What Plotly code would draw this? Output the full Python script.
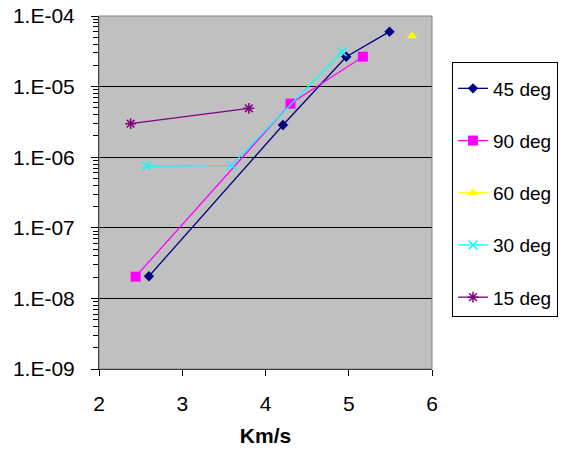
import plotly.graph_objects as go

# ---- data ----
names = ["45 deg", "90 deg", "60 deg", "30 deg", "15 deg"]
x45 = [2.60, 4.21, 4.97, 5.49]
y45 = [2.06e-8, 2.86e-6, 2.65e-5, 6.0e-5]
x90 = [2.44, 4.30, 5.17]
y90 = [2.03e-8, 5.73e-6, 2.65e-5]
x60 = [5.76]
y60 = [5.2e-5]
x30 = [2.57, 3.59, 4.92]
y30 = [7.5e-7, 7.67e-7, 3.12e-5]
x15 = [2.38, 3.80]
y15 = [2.98e-6, 4.93e-6]
ytick_vals = [1e-9, 1e-8, 1e-7, 1e-6, 1e-5, 1e-4]
ytick_text = ["1.E-09", "1.E-08", "1.E-07", "1.E-06", "1.E-05", "1.E-04"]
xtick_vals = [2, 3, 4, 5, 6]

series = [
    (names[0], x45, y45, "#000080", "diamond", 8, 0),
    (names[1], x90, y90, "#FF00FF", "square", 10, 0),
    (names[2], x60, y60, "#FFFF00", "triangle-up", 9, 0),
    (names[3], x30, y30, "#00FFFF", "x-thin-open", 9, 1.5),
    (names[4], x15, y15, "#800080", "asterisk-open", 9, 1.5),
]

fig = go.Figure()
for i, (n, xs, ys, c, sym, sz, lw) in enumerate(series):
    fig.add_trace(go.Scatter(
        x=xs, y=ys, name=n, mode="lines+markers", legendgroup=f"g{i}",
        line=dict(color=c, width=1.3),
        marker=dict(symbol=sym, size=sz, color=c, line=dict(color=c, width=lw)),
    ))

minor_vals = [m * 10.0 ** e for e in range(-9, -4) for m in range(2, 10)]

W, H = 565, 450
L, T, B = 99, 16, 81
plot_w = 333
paper_w = W - L
plot_h = H - T - B

fig.update_layout(
    width=W, height=H,
    margin=dict(l=L, r=0, t=T, b=B, autoexpand=False),
    paper_bgcolor="white", plot_bgcolor="#C0C0C0",
    font=dict(family="Liberation Sans, Arial, sans-serif", size=21, color="black"),
    showlegend=True,
    legend=dict(x=(452 - L) / paper_w, xanchor="left",
                y=1 - (62 - T) / plot_h, yanchor="top",
                bordercolor="black", borderwidth=1, bgcolor="white",
                title=dict(text=" ", font=dict(size=5)),
                tracegroupgap=24.5, font=dict(size=19), itemwidth=30),
    xaxis=dict(domain=[0, plot_w / paper_w], range=[2, 6], tickvals=xtick_vals,
               ticks="outside", ticklen=6, tickcolor="black", ticklabelstandoff=10,
               showgrid=False, zeroline=False, automargin=False,
               showline=True, linecolor="black", linewidth=1,
               title=dict(text="<b>Km/s</b>", font=dict(size=21), standoff=14)),
    yaxis=dict(type="log", range=[-9, -4], tickvals=ytick_vals, ticktext=ytick_text,
               ticks="outside", ticklen=7, tickcolor="black", ticklabelstandoff=12,
               ticklabeloverflow="allow",
               showgrid=True, gridcolor="black", gridwidth=1, zeroline=False,
               automargin=False,
               showline=True, linecolor="black", linewidth=1,
               minor=dict(tickvals=minor_vals, ticks="outside", ticklen=5,
                          tickcolor="black", showgrid=False)),
)
fig.add_shape(type="rect", xref="x domain", yref="y domain", x0=0, y0=0, x1=1, y1=1,
              line=dict(color="#808080", width=1), layer="above")
fig.write_html("out.html", config={"displayModeBar": False},
               post_script="document.body.style.margin='0';")
